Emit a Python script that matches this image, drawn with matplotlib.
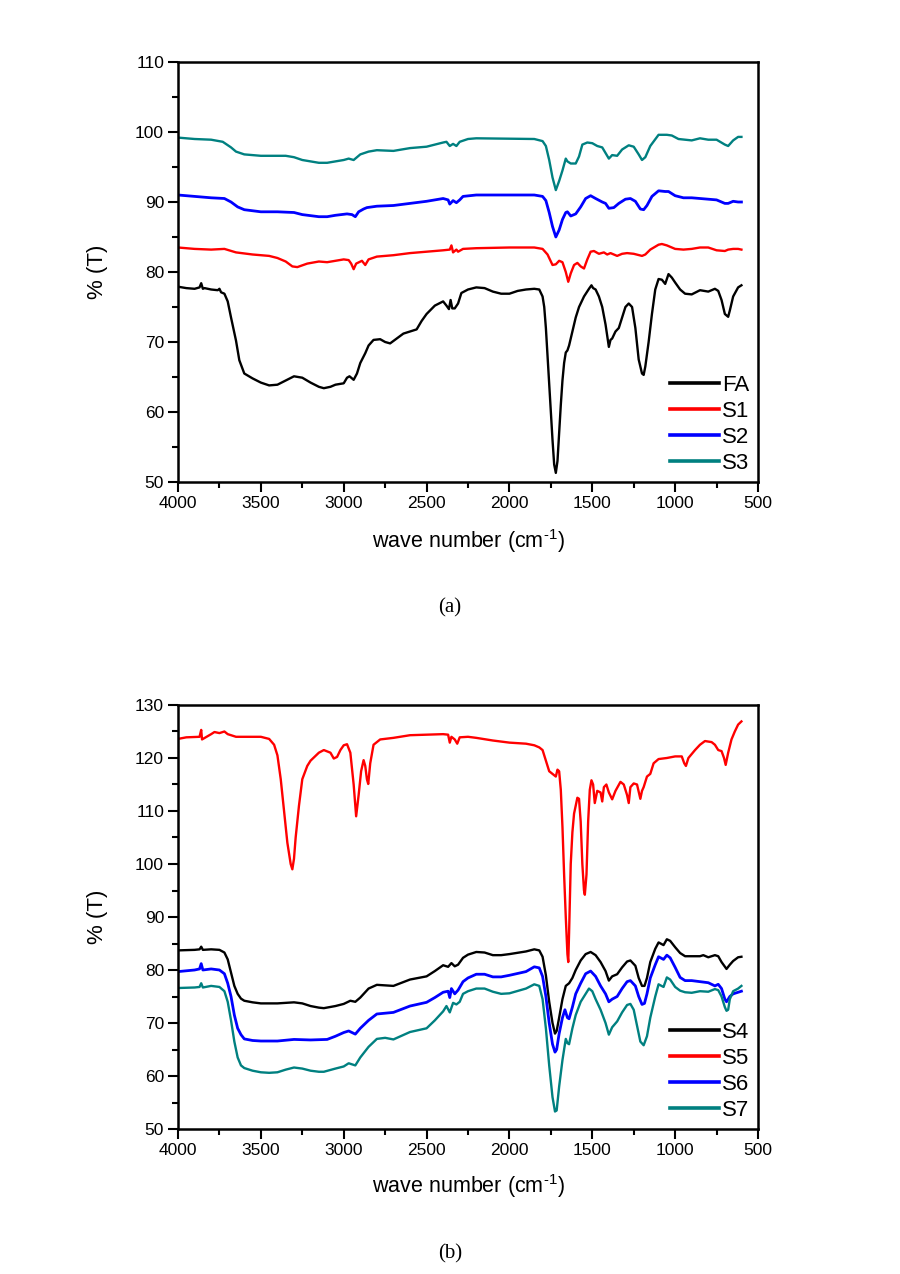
import matplotlib
matplotlib.use("Agg")
import matplotlib.pyplot as plt
from matplotlib.ticker import MultipleLocator

plt.rcParams['font.family'] = ['Liberation Sans', 'DejaVu Sans']
plt.rcParams['mathtext.fontset'] = 'custom'
plt.rcParams['mathtext.rm'] = 'Liberation Sans'
plt.rcParams['mathtext.it'] = 'Liberation Sans'

# ---- panel (a) ----
fa_wn = [4000,3950,3900,3870,3860,3850,3840,3800,3760,3750,3740,3720,3700,3680,3650,3630,3600,3550,3500,3450,
         3400,3350,3300,3250,3200,3150,3120,3080,3050,3000,2980,2965,2950,2940,2920,2900,2870,2850,2820,2780,
         2750,2720,2680,2640,2600,2560,2530,2500,2450,2400,2380,2365,2355,2345,2330,2310,2290,2250,2200,2150,
         2100,2050,2000,1950,1900,1850,1820,1800,1790,1780,1770,1760,1750,1740,1730,1720,1710,1700,1690,1680,
         1670,1660,1650,1640,1620,1600,1580,1550,1520,1505,1495,1480,1460,1440,1420,1400,1390,1380,1360,1340,
         1320,1300,1280,1260,1240,1220,1200,1190,1180,1160,1140,1120,1100,1080,1060,1040,1020,1000,970,940,
         900,850,800,760,740,720,700,690,680,670,650,620,600]
fa_t = [77.9,77.7,77.6,77.8,78.4,77.6,77.7,77.5,77.4,77.6,77.1,76.9,75.8,73.5,70.2,67.4,65.5,64.8,64.2,63.8,
        63.9,64.5,65.1,64.9,64.2,63.6,63.4,63.6,63.9,64.1,64.9,65.1,64.8,64.6,65.5,67.0,68.4,69.5,70.3,70.4,
        70.0,69.8,70.5,71.2,71.5,71.8,73.0,74.0,75.2,75.8,75.2,74.7,76.0,74.8,74.8,75.5,77.0,77.5,77.8,77.7,
        77.2,76.9,76.9,77.3,77.5,77.6,77.5,76.5,75.0,72.0,68.0,64.0,60.0,56.0,52.5,51.3,53.0,57.0,61.0,64.5,
        67.0,68.5,68.8,69.5,71.5,73.5,75.0,76.5,77.6,78.1,77.7,77.5,76.5,75.0,72.5,69.3,70.3,70.5,71.5,72.0,
        73.5,75.0,75.5,75.0,72.0,67.5,65.5,65.3,66.5,70.0,74.0,77.5,79.0,78.9,78.3,79.7,79.2,78.5,77.5,76.9,
        76.8,77.4,77.2,77.6,77.3,76.0,74.0,73.8,73.6,74.5,76.5,77.8,78.1]

s1_wn = [4000,3900,3800,3720,3650,3550,3450,3400,3350,3310,3280,3220,3150,3100,3050,3000,2970,2955,2940,2925,
         2890,2870,2850,2800,2700,2600,2500,2400,2360,2350,2340,2320,2310,2280,2200,2000,1850,1800,1770,1740,
         1720,1700,1680,1660,1645,1630,1610,1590,1570,1550,1530,1510,1490,1460,1430,1410,1390,1350,1320,1290,
         1250,1200,1180,1150,1100,1080,1050,1000,950,900,850,800,750,700,680,650,620,600]
s1_t = [83.5,83.3,83.2,83.3,82.8,82.5,82.3,82.0,81.5,80.8,80.7,81.2,81.5,81.4,81.6,81.8,81.7,81.2,80.4,81.2,
        81.6,81.0,81.8,82.2,82.4,82.7,82.9,83.1,83.2,83.8,82.8,83.2,82.9,83.3,83.4,83.5,83.5,83.3,82.5,81.0,
        81.1,81.6,81.4,80.0,78.6,79.8,81.0,81.3,80.8,80.5,81.8,82.9,83.0,82.6,82.8,82.5,82.7,82.3,82.6,82.7,
        82.6,82.3,82.5,83.2,83.9,84.0,83.8,83.3,83.2,83.3,83.5,83.5,83.1,83.0,83.2,83.3,83.3,83.2]

s2_wn = [4000,3900,3800,3720,3680,3640,3600,3500,3400,3300,3250,3150,3100,3050,2980,2950,2930,2910,2880,2860,
         2800,2700,2600,2500,2400,2370,2360,2340,2320,2300,2280,2200,1850,1800,1780,1760,1740,1720,1700,1680,
         1660,1650,1630,1600,1570,1540,1510,1480,1440,1420,1400,1370,1340,1300,1270,1240,1210,1190,1170,1140,
         1100,1060,1040,1000,950,900,850,800,750,700,680,650,620,600]
s2_t = [91.0,90.8,90.6,90.5,90.0,89.3,88.9,88.6,88.6,88.5,88.2,87.9,87.9,88.1,88.3,88.2,87.9,88.6,89.0,89.2,
        89.4,89.5,89.8,90.1,90.5,90.3,89.7,90.2,89.9,90.3,90.8,91.0,91.0,90.8,90.2,88.5,86.5,85.0,86.0,87.5,
        88.5,88.6,88.0,88.3,89.3,90.5,90.9,90.5,90.0,89.8,89.1,89.2,89.8,90.4,90.5,90.1,89.0,88.9,89.5,90.8,
        91.6,91.5,91.5,90.9,90.6,90.6,90.5,90.4,90.3,89.8,89.8,90.1,90.0,90.0]

s3_wn = [4000,3900,3800,3730,3680,3650,3600,3500,3350,3300,3250,3150,3100,3050,3000,2970,2940,2900,2850,2800,
         2700,2600,2500,2400,2380,2360,2340,2320,2300,2250,2200,1850,1800,1780,1760,1740,1720,1700,1680,1660,
         1650,1630,1600,1580,1560,1530,1500,1470,1440,1420,1400,1380,1350,1320,1280,1250,1220,1200,1180,1150,
         1100,1050,1020,980,900,850,800,750,700,680,650,620,600]
s3_t = [99.2,99.0,98.9,98.6,97.8,97.2,96.8,96.6,96.6,96.4,96.0,95.6,95.6,95.8,96.0,96.2,96.0,96.8,97.2,97.4,
        97.3,97.7,97.9,98.5,98.6,98.0,98.3,98.0,98.6,99.0,99.1,99.0,98.7,98.0,96.0,93.5,91.7,93.0,94.5,96.2,
        95.8,95.5,95.5,96.5,98.2,98.5,98.4,98.0,97.8,97.0,96.2,96.7,96.6,97.5,98.1,97.9,96.8,96.0,96.4,98.0,
        99.6,99.6,99.5,99.0,98.8,99.1,98.9,98.9,98.2,98.0,98.8,99.3,99.3]

# ---- panel (b) ----
s4_wn = [4000,3900,3870,3860,3850,3800,3750,3720,3700,3680,3660,3640,3620,3600,3550,3500,3400,3300,3250,3200,
         3150,3120,3050,3000,2960,2930,2900,2850,2800,2750,2700,2650,2600,2500,2450,2400,2370,2350,2330,2310,
         2280,2250,2200,2150,2100,2050,2000,1900,1850,1820,1800,1780,1760,1740,1725,1715,1700,1680,1660,1640,
         1620,1600,1570,1540,1510,1480,1450,1420,1400,1380,1350,1320,1290,1270,1240,1220,1200,1185,1170,1150,
         1120,1100,1070,1050,1030,1000,970,940,900,850,830,800,760,740,720,690,670,650,620,600]
s4_t = [83.7,83.8,83.9,84.4,83.8,83.9,83.8,83.3,82.0,79.5,77.0,75.5,74.6,74.2,73.9,73.7,73.7,73.9,73.7,73.2,
        72.9,72.8,73.2,73.6,74.2,74.0,74.8,76.5,77.2,77.1,77.0,77.6,78.2,78.8,79.8,80.9,80.6,81.3,80.7,81.0,
        82.3,82.9,83.4,83.3,82.8,82.8,83.0,83.5,83.9,83.7,82.5,79.0,74.0,70.0,68.0,68.5,71.0,74.5,77.0,77.5,
        78.5,80.0,81.8,83.0,83.4,82.8,81.5,79.8,78.0,78.8,79.2,80.5,81.6,81.8,80.8,78.5,77.0,77.0,78.5,81.5,
        84.0,85.2,84.7,85.8,85.5,84.3,83.2,82.6,82.6,82.6,82.8,82.4,82.8,82.6,81.5,80.2,81.0,81.7,82.4,82.5]

s5_wn = [4000,3950,3870,3860,3855,3800,3780,3750,3720,3700,3650,3600,3500,3450,3420,3400,3380,3360,3340,3320,
         3310,3300,3290,3270,3250,3220,3200,3150,3120,3080,3060,3040,3020,3000,2980,2960,2940,2925,2910,2895,
         2880,2870,2860,2852,2840,2820,2780,2700,2600,2500,2400,2370,2360,2350,2330,2315,2300,2250,2200,2100,
         2000,1900,1850,1820,1800,1780,1760,1740,1720,1710,1700,1690,1680,1670,1660,1650,1645,1640,1630,1620,
         1610,1590,1580,1570,1560,1550,1545,1535,1525,1515,1505,1495,1485,1470,1450,1440,1430,1415,1400,1380,
         1360,1330,1310,1290,1280,1270,1250,1230,1210,1200,1190,1170,1150,1130,1100,1050,1000,960,945,935,
         920,880,850,820,780,760,740,720,705,695,680,660,640,620,600]
s5_t = [123.6,123.9,124.0,125.3,123.5,124.5,124.9,124.7,125.0,124.5,124.0,124.0,124.0,123.6,122.5,120.5,116.0,110.0,104.0,100.0,
        99.0,101.0,105.0,111.0,116.0,118.5,119.5,121.0,121.5,121.0,119.9,120.2,121.5,122.4,122.6,121.0,115.0,109.0,113.0,117.5,
        119.6,118.5,116.0,115.1,119.0,122.5,123.5,123.8,124.3,124.4,124.5,124.4,122.9,124.0,123.5,122.7,123.9,124.0,123.8,123.3,
        122.9,122.7,122.4,122.0,121.5,119.5,117.5,117.0,116.5,117.8,117.5,114.0,107.0,98.0,90.0,83.0,81.5,87.0,100.0,106.0,
        109.5,112.5,112.3,108.0,100.0,95.0,94.2,98.0,108.0,114.0,115.8,115.0,111.5,113.8,113.5,111.8,114.5,115.0,113.5,112.2,
        113.8,115.5,115.0,113.0,111.5,114.5,115.2,115.0,112.3,113.8,114.5,116.5,117.0,119.0,119.8,120.0,120.3,120.3,119.0,118.5,
        120.0,121.5,122.5,123.2,123.0,122.5,121.5,121.3,120.0,118.7,121.0,123.5,125.0,126.3,126.9]

s6_wn = [4000,3900,3870,3860,3850,3800,3750,3720,3700,3680,3660,3640,3620,3600,3550,3500,3400,3300,3200,3100,
         3050,3000,2970,2950,2930,2900,2850,2800,2700,2650,2600,2500,2450,2400,2370,2360,2350,2330,2310,2280,
         2250,2200,2150,2100,2050,2000,1900,1850,1820,1800,1780,1760,1740,1725,1715,1700,1680,1665,1650,1640,
         1620,1600,1570,1540,1510,1480,1450,1420,1400,1380,1350,1320,1290,1270,1240,1220,1200,1185,1170,1150,
         1120,1100,1070,1050,1030,1000,970,940,900,850,800,760,740,720,700,690,670,650,620,600]
s6_t = [79.7,80.0,80.2,81.2,80.0,80.2,80.0,79.3,77.5,75.0,71.5,69.0,67.8,67.0,66.7,66.6,66.6,66.9,66.8,66.9,
        67.5,68.2,68.5,68.2,67.9,69.0,70.5,71.7,72.0,72.6,73.2,73.9,74.8,75.8,76.0,74.8,76.5,75.5,76.2,77.8,
        78.5,79.2,79.2,78.7,78.7,79.0,79.7,80.6,80.4,78.8,75.0,70.0,66.0,64.5,65.0,68.0,71.0,72.5,71.0,70.8,
        73.0,75.5,77.5,79.3,79.8,78.8,77.0,75.5,74.0,74.5,75.0,76.5,77.8,78.0,77.0,75.0,73.5,73.7,75.5,78.5,
        81.0,82.5,82.0,82.8,82.3,80.5,78.6,78.0,78.0,77.8,77.6,77.0,77.3,76.5,74.5,74.0,75.0,75.5,75.8,76.0]

s7_wn = [4000,3900,3870,3860,3850,3800,3750,3720,3700,3680,3660,3640,3620,3600,3550,3500,3450,3400,3350,3300,
         3250,3200,3150,3120,3050,3000,2970,2950,2930,2900,2850,2800,2750,2700,2650,2600,2500,2450,2400,2380,
         2360,2340,2320,2300,2280,2250,2200,2150,2100,2050,2000,1900,1850,1820,1800,1780,1760,1740,1725,1715,
         1700,1680,1660,1650,1640,1620,1600,1570,1540,1520,1500,1480,1450,1420,1400,1380,1350,1320,1290,1270,
         1250,1230,1210,1190,1170,1150,1120,1100,1070,1050,1030,1000,970,940,900,850,800,760,740,720,
         700,690,680,670,650,620,600]
s7_t = [76.6,76.7,76.8,77.5,76.7,77.0,76.8,76.0,74.0,70.5,66.5,63.5,62.0,61.5,61.0,60.7,60.6,60.7,61.2,61.6,
        61.4,61.0,60.8,60.8,61.4,61.8,62.4,62.2,62.0,63.5,65.5,67.0,67.2,66.9,67.6,68.3,69.0,70.5,72.2,73.2,
        72.0,73.8,73.5,74.0,75.5,76.0,76.5,76.5,75.9,75.5,75.6,76.5,77.3,77.0,74.5,69.0,62.0,56.0,53.3,53.5,
        58.0,63.0,67.0,66.2,66.0,69.0,71.5,74.0,75.5,76.5,76.0,74.5,72.5,70.0,67.8,69.2,70.3,72.0,73.4,73.6,
        72.5,69.5,66.5,65.8,67.5,71.0,75.0,77.3,76.8,78.6,78.2,76.8,76.1,75.8,75.7,76.0,75.9,76.4,76.2,75.0,
        73.0,72.3,72.5,74.5,76.0,76.5,77.0]

BLACK, RED, BLUE, TEAL = 'black', '#ff0000', '#0000ff', '#008080'

W, H = 900, 1274
fig = plt.figure(figsize=(W / 100, H / 100), dpi=100)


def px_axes(left, top, right, bottom):
    return fig.add_axes([left / W, 1 - bottom / H, (right - left) / W, (bottom - top) / H])


def style(ax, ymin, ymax):
    ax.set_xlim(4000, 500)
    ax.set_ylim(ymin, ymax)
    ax.xaxis.set_major_locator(MultipleLocator(500))
    ax.xaxis.set_minor_locator(MultipleLocator(250))
    ax.yaxis.set_major_locator(MultipleLocator(10))
    ax.yaxis.set_minor_locator(MultipleLocator(5))
    ax.tick_params(which='both', direction='out', width=1.5, labelsize=12.5, pad=3)
    ax.tick_params(which='major', length=7)
    ax.tick_params(which='minor', length=4)
    for s in ax.spines.values():
        s.set_linewidth(1.8)


def labels(ylab_y, xlab_y, cap_y, cap):
    fig.text(98 / W, 1 - ylab_y / H, '% (T)', rotation=90, ha='center', va='center', fontsize=16)
    fig.text(468 / W, 1 - xlab_y / H, 'wave number (cm$^{\\text{-}1}$)', ha='center', va='center', fontsize=15.5)
    fig.text(450 / W, 1 - cap_y / H, cap, ha='center', va='center', fontsize=15,
             family=['Liberation Serif', 'DejaVu Serif'])


def add_legend(ax):
    leg = ax.legend(loc='lower right', bbox_to_anchor=(0.985, 0.02), frameon=False, fontsize=16,
                    handlelength=2.2, handletextpad=0.12, labelspacing=0.22, borderpad=0, borderaxespad=0)
    for ln in leg.get_lines():
        ln.set_linewidth(2.6)


# panel (a)
ax1 = px_axes(178, 62, 758, 482)
ax1.plot(fa_wn, fa_t, color=BLACK, lw=1.7, label='FA')
ax1.plot(s1_wn, s1_t, color=RED, lw=1.7, label='S1')
ax1.plot(s2_wn, s2_t, color=BLUE, lw=2.0, label='S2')
ax1.plot(s3_wn, s3_t, color=TEAL, lw=1.7, label='S3')
style(ax1, 50, 110)
add_legend(ax1)
labels(272, 541, 608, '(a)')

# panel (b)
ax2 = px_axes(178, 705, 758, 1129)
ax2.plot(s4_wn, s4_t, color=BLACK, lw=1.7, label='S4')
ax2.plot(s5_wn, s5_t, color=RED, lw=1.7, label='S5')
ax2.plot(s6_wn, s6_t, color=BLUE, lw=2.0, label='S6')
ax2.plot(s7_wn, s7_t, color=TEAL, lw=1.7, label='S7')
style(ax2, 50, 130)
add_legend(ax2)
labels(917, 1186, 1254, '(b)')

fig.savefig('out.png', dpi=100)
